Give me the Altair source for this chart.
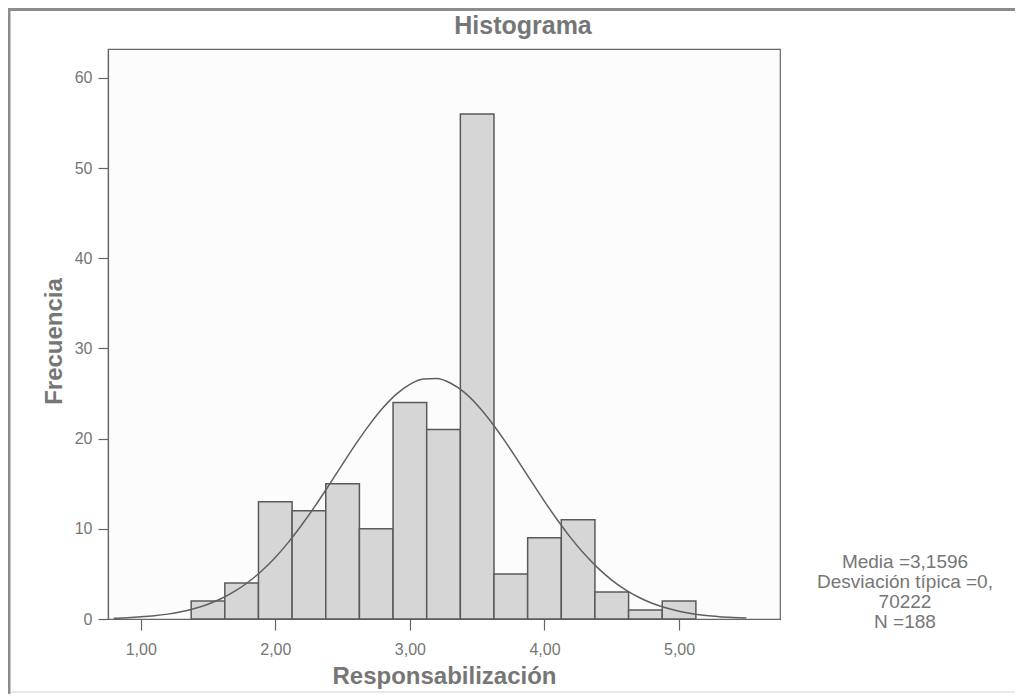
import altair as alt
import pandas as pd

# ---- data ----
bin_lo = [1.375, 1.625, 1.875, 2.125, 2.375, 2.625, 2.875, 3.125, 3.375, 3.625, 3.875, 4.125, 4.375, 4.625, 4.875]
bin_hi = [1.625, 1.875, 2.125, 2.375, 2.625, 2.875, 3.125, 3.375, 3.625, 3.875, 4.125, 4.375, 4.625, 4.875, 5.125]
counts = [2, 4, 13, 12, 15, 10, 24, 21, 56, 5, 9, 11, 3, 1, 2]

curve_x = [0.8, 0.9, 1.0, 1.1, 1.2, 1.3, 1.4, 1.5, 1.6, 1.7, 1.8, 1.9, 2.0, 2.1, 2.2, 2.3,
           2.4, 2.5, 2.6, 2.7, 2.8, 2.9, 3.0, 3.1, 3.2, 3.3, 3.4, 3.5, 3.6, 3.7, 3.8, 3.9,
           4.0, 4.1, 4.2, 4.3, 4.4, 4.5, 4.6, 4.7, 4.8, 4.9, 5.0, 5.1, 5.2, 5.3, 5.4, 5.5]
curve_y = [0.09, 0.15, 0.24, 0.36, 0.54, 0.80, 1.16, 1.64, 2.27, 3.08, 4.10, 5.35, 6.83, 8.55, 10.50, 12.62,
           14.87, 17.18, 19.44, 21.55, 23.42, 24.94, 26.02, 26.60, 26.66, 26.17, 25.18, 23.74, 21.93, 19.86, 17.62, 15.32,
           13.05, 10.89, 8.91, 7.14, 5.61, 4.32, 3.26, 2.41, 1.74, 1.24, 0.86, 0.59, 0.39, 0.26, 0.17, 0.10]

x_ticks = [1, 2, 3, 4, 5]
y_ticks = [0, 10, 20, 30, 40, 50, 60]
stats_lines = ["Media =3,1596", "Desviación típica =0,", "70222", "N =188"]

bars_df = pd.DataFrame({"lo": bin_lo, "hi": bin_hi, "n": counts, "base": [0] * len(counts)})
curve_df = pd.DataFrame({"x": curve_x, "y": curve_y})
one = pd.DataFrame({"k": [0]})

FONT = "Liberation Sans"
TXT = "#767676"

xscale = alt.Scale(domain=[0.757, 5.75], nice=False, zero=False)
yscale = alt.Scale(domain=[0, 63.2], nice=False)

bars = alt.Chart(bars_df).mark_rect(
    fill="#d6d6d6", stroke="#5a5a5a", strokeWidth=1.5
).encode(
    x=alt.X("lo:Q", scale=xscale, axis=alt.Axis(
        values=x_ticks, title="Responsabilización",
        labelExpr="replace(format(datum.value, '.2f'), '.', ',')",
        tickSize=11, labelPadding=11, titlePadding=7)),
    x2="hi:Q",
    y=alt.Y("n:Q", scale=yscale, axis=alt.Axis(
        values=y_ticks, title="Frecuencia", tickSize=10, labelPadding=6,
        titlePadding=8, titleY=292)),
    y2="base:Q",
)

curve = alt.Chart(curve_df).mark_line(
    color="#5f5f5f", strokeWidth=1.5, interpolate="monotone"
).encode(x="x:Q", y="y:Q")

# outer picture frame: top and left edges, kept inside the drawing area
frame_top = alt.Chart(one).mark_rule(color="#8c8c8c", strokeWidth=3).encode(
    x=alt.value(-100), x2=alt.value(907), y=alt.value(-39.5))
frame_left = alt.Chart(one).mark_rule(color="#8c8c8c", strokeWidth=3).encode(
    x=alt.value(-99), y=alt.value(-41), y2=alt.value(645))
frame_bottom = alt.Chart(one).mark_rule(color="#e2e2e2", strokeWidth=1.5).encode(
    x=alt.value(-97), x2=alt.value(907), y=alt.value(643))

stats = alt.Chart(one).mark_text(
    align="center", baseline="alphabetic", fontSize=19, lineHeight=20,
    font=FONT, color=TXT
).encode(x=alt.value(797), y=alt.value(519), text=alt.value(stats_lines))

chart = alt.layer(frame_top, frame_left, frame_bottom, bars, curve, stats).properties(
    width=672, height=570,
    padding={"left": 100, "top": 41, "right": 236, "bottom": 77},
    autosize=alt.AutoSizeParams(type="none"),
    background="white",
    title=alt.TitleParams("Histograma", fontSize=25, fontWeight="bold", font=FONT,
                          color=TXT, anchor="middle", offset=-32, dx=79),
).configure_view(
    fill="#fcfcfc", stroke="#666666", strokeWidth=1.2
).configure_axis(
    grid=False, labelFont=FONT, labelFontSize=16, labelColor=TXT,
    titleFont=FONT, titleFontSize=24, titleFontWeight="bold", titleColor=TXT,
    domainColor="#666666", domainWidth=1.2, tickColor="#666666", tickWidth=1.2,
)

chart.save("out.html", embed_options={"renderer": "svg", "actions": False})
